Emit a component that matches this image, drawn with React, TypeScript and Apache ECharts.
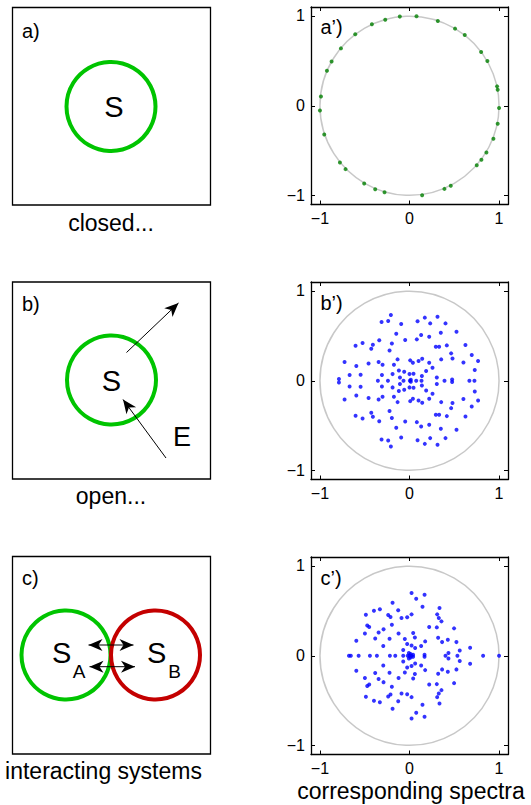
import React, { useEffect, useRef } from "react";
import * as echarts from "echarts";

// Axis ticks shared by the three spectrum panels
const TICKS = [-1, 0, 1];
const TICK_LABELS = ["−1", "0", "1"];
const AXIS_MIN = -1.1;
const AXIS_MAX = 1.1;

// Unit circle drawn behind each spectrum: [centre x, centre y, radius]
const UNIT_CIRCLE = [[0, 0, 1]];

// a') closed system: eigenvalues on the unit circle
const CLOSED_SPECTRUM = [
  [0.078, 0.996], [-0.108, 0.993], [-0.271, 0.959], [-0.42, 0.907], [-0.606, 0.796],
  [-0.766, 0.639], [-0.87, 0.494], [-0.922, 0.39], [-0.989, 0.104], [-1.0, -0.052],
  [-0.952, -0.32], [-0.777, -0.632], [-0.714, -0.706], [-0.506, -0.866], [-0.383, -0.929],
  [-0.279, -0.963], [0.141, -0.996], [0.39, -0.926], [0.461, -0.892], [0.751, -0.662],
  [0.803, -0.602], [0.859, -0.52], [0.937, -0.368], [0.985, -0.2], [1.0, -0.026],
  [0.985, 0.178], [0.978, 0.216], [0.87, 0.498], [0.8, 0.599], [0.617, 0.788],
  [0.509, 0.859], [0.316, 0.944],
];

// b') open system: complex eigenvalues (upper half-plane)
const OPEN_UPPER = [
  [-0.208, 0.732], [-0.312, 0.654], [-0.238, 0.665], [-0.093, 0.632], [0.09, 0.662],
  [0.171, 0.703], [0.313, 0.714], [0.231, 0.639], [0.402, 0.639], [0.525, 0.546],
  [0.35, 0.535], [-0.148, 0.524], [0.13, 0.509], [0.22, 0.491], [-0.048, 0.454],
  [0.082, 0.461], [-0.338, 0.45], [-0.197, 0.416], [-0.524, 0.42], [-0.602, 0.39],
  [-0.409, 0.401], [-0.427, 0.357], [-0.223, 0.338], [0.294, 0.379], [0.331, 0.379],
  [0.417, 0.394], [0.625, 0.398], [0.465, 0.305], [0.695, 0.286], [0.48, 0.249],
  [0.354, 0.238], [0.142, 0.245], [0.101, 0.219], [0.008, 0.227], [0.038, 0.201],
  [0.22, 0.201], [-0.133, 0.238], [-0.174, 0.178], [-0.345, 0.208], [-0.301, 0.178],
  [-0.457, 0.193], [-0.725, 0.208], [-0.594, 0.164], [0.602, 0.204], [0.766, 0.219],
  [0.257, 0.145], [0.729, 0.119], [0.186, 0.108], [-0.119, 0.115], [-0.059, 0.1],
  [0.0, 0.074], [0.045, 0.078], [-0.189, 0.074], [-0.308, 0.063], [-0.546, 0.067],
  [-0.669, 0.063], [0.138, 0.052], [0.305, 0.037], [-0.107, 0.037], [-0.788, 0.019],
  [0.476, 0.015], [0.015, 0.012],
];
// b') real eigenvalues
const OPEN_REAL = [
  [-0.353, 0], [-0.241, 0], [-0.067, 0], [0.004, 0], [0.075, 0],
  [0.134, 0], [0.391, 0], [0.669, 0], [0.725, 0],
];
// b') complex conjugates (lower half-plane)
const OPEN_LOWER = [
  [-0.208, -0.732], [-0.312, -0.654], [-0.238, -0.665], [-0.093, -0.632], [0.09, -0.662],
  [0.171, -0.703], [0.313, -0.714], [0.231, -0.639], [0.402, -0.639], [0.525, -0.546],
  [0.35, -0.535], [-0.148, -0.524], [0.13, -0.509], [0.22, -0.491], [-0.048, -0.454],
  [0.082, -0.461], [-0.338, -0.45], [-0.197, -0.416], [-0.524, -0.42], [-0.602, -0.39],
  [-0.409, -0.401], [-0.427, -0.357], [-0.223, -0.338], [0.294, -0.379], [0.331, -0.379],
  [0.417, -0.394], [0.625, -0.398], [0.465, -0.305], [0.695, -0.286], [0.48, -0.249],
  [0.354, -0.238], [0.142, -0.245], [0.101, -0.219], [0.008, -0.227], [0.038, -0.201],
  [0.22, -0.201], [-0.133, -0.238], [-0.174, -0.178], [-0.345, -0.208], [-0.301, -0.178],
  [-0.457, -0.193], [-0.725, -0.208], [-0.594, -0.164], [0.602, -0.204], [0.766, -0.219],
  [0.257, -0.145], [0.729, -0.119], [0.186, -0.108], [-0.119, -0.115], [-0.059, -0.1],
  [0.0, -0.074], [0.045, -0.078], [-0.189, -0.074], [-0.308, -0.063], [-0.546, -0.067],
  [-0.669, -0.063], [0.138, -0.052], [0.305, -0.037], [-0.107, -0.037], [-0.788, -0.019],
  [0.476, -0.015], [0.015, -0.012],
];

// c') interacting systems: complex eigenvalues (upper half-plane)
const COUPLED_UPPER = [
  [0.023, 0.699], [0.168, 0.68], [0.075, 0.636], [-0.189, 0.591], [0.145, 0.546],
  [0.335, 0.532], [-0.331, 0.517], [-0.397, 0.502], [-0.126, 0.506], [-0.487, 0.457],
  [-0.238, 0.454], [-0.212, 0.431], [-0.089, 0.42], [-0.026, 0.428], [0.023, 0.461],
  [0.309, 0.461], [0.327, 0.42], [0.357, 0.383], [-0.472, 0.338], [-0.45, 0.32],
  [-0.197, 0.346], [-0.29, 0.294], [-0.345, 0.26], [-0.498, 0.249], [-0.122, 0.249],
  [0.041, 0.253], [0.22, 0.32], [0.305, 0.316], [0.498, 0.305], [-0.383, 0.193],
  [-0.223, 0.19], [-0.052, 0.186], [0.06, 0.204], [0.32, 0.201], [0.364, 0.152],
  [0.428, 0.178], [0.524, 0.152], [-0.026, 0.13], [0.023, 0.115], [0.175, 0.16],
  [0.13, 0.108], [-0.594, 0.167], [-0.293, 0.108], [0.063, 0.086], [-0.07, 0.063],
  [0.561, 0.059], [0.677, 0.089], [0.435, 0.03], [0.168, 0.011], [-0.007, 0.03],
  [0.04, 0.01], [0.012, 0.02],
];
// c') real eigenvalues
const COUPLED_REAL = [
  [-0.676, 0], [-0.655, 0], [-0.568, 0], [-0.442, 0], [-0.364, 0],
  [-0.219, 0], [-0.159, 0], [-0.07, 0], [-0.02, 0], [0.0, 0],
  [0.02, 0], [0.402, 0], [0.535, 0], [0.822, 0], [1.0, 0],
];
// c') complex conjugates (lower half-plane)
const COUPLED_LOWER = [
  [0.023, -0.699], [0.168, -0.68], [0.075, -0.636], [-0.189, -0.591], [0.145, -0.546],
  [0.335, -0.532], [-0.331, -0.517], [-0.397, -0.502], [-0.126, -0.506], [-0.487, -0.457],
  [-0.238, -0.454], [-0.212, -0.431], [-0.089, -0.42], [-0.026, -0.428], [0.023, -0.461],
  [0.309, -0.461], [0.327, -0.42], [0.357, -0.383], [-0.472, -0.338], [-0.45, -0.32],
  [-0.197, -0.346], [-0.29, -0.294], [-0.345, -0.26], [-0.498, -0.249], [-0.122, -0.249],
  [0.041, -0.253], [0.22, -0.32], [0.305, -0.316], [0.498, -0.305], [-0.383, -0.193],
  [-0.223, -0.19], [-0.052, -0.186], [0.06, -0.204], [0.32, -0.201], [0.364, -0.152],
  [0.428, -0.178], [0.524, -0.152], [-0.026, -0.13], [0.023, -0.115], [0.175, -0.16],
  [0.13, -0.108], [-0.594, -0.167], [-0.293, -0.108], [0.063, -0.086], [-0.07, -0.063],
  [0.561, -0.059], [0.677, -0.089], [0.435, -0.03], [0.168, -0.011], [-0.007, -0.03],
  [0.04, -0.01], [0.012, -0.02],
];

const PANEL_TAGS = ["a)", "b)", "c)"];
const SPECTRUM_TAGS = ["a’)", "b’)", "c’)"];
const CAPTIONS = ["closed...", "open...", "interacting systems"];
const SPECTRA_CAPTION = "corresponding spectra";

const FONT = "'Liberation Sans', Arial, Helvetica, sans-serif";
const GREEN = "#00c400";
const RED = "#c40000";
const GRID_TOPS = [7, 282, 557];
const GRID_LEFT = 311;
const GRID_SIZE = 197.5;

function tickLabel(v: number) {
  const i = TICKS.indexOf(v);
  return i >= 0 ? TICK_LABELS[i] : String(v);
}

function makeAxis(gridIndex: number, position: string, labelled: boolean) {
  const horizontal = position === "bottom" || position === "top";
  return {
    type: "value",
    gridIndex,
    position,
    min: AXIS_MIN,
    max: AXIS_MAX,
    axisLine: { show: true, onZero: false, lineStyle: { color: "#000", width: 1.3 } },
    axisTick: {
      show: true,
      inside: true,
      length: 4,
      customValues: TICKS,
      lineStyle: { color: "#000", width: 1 },
    },
    axisLabel: {
      show: labelled,
      customValues: TICKS,
      formatter: tickLabel,
      color: "#000",
      fontSize: 16,
      fontFamily: FONT,
      margin: horizontal ? 6 : 6,
    },
    splitLine: { show: false },
  };
}

function text(x: number, y: number, s: string, size: number, align = "center") {
  return {
    type: "text",
    x,
    y,
    z: 10,
    style: { text: s, fontSize: size, fontFamily: FONT, fill: "#000", align, verticalAlign: "middle" },
  };
}

function head(tx: number, ty: number, fx: number, fy: number) {
  const len = 14;
  const half = 6;
  const notch = 4;
  const dx = tx - fx;
  const dy = ty - fy;
  const d = Math.hypot(dx, dy);
  const ux = dx / d;
  const uy = dy / d;
  const nx = -uy;
  const ny = ux;
  const bx = tx - ux * len;
  const by = ty - uy * len;
  return {
    type: "polygon",
    z: 11,
    shape: {
      points: [
        [tx, ty],
        [bx + nx * half, by + ny * half],
        [tx - ux * (len - notch), ty - uy * (len - notch)],
        [bx - nx * half, by - ny * half],
      ],
    },
    style: { fill: "#000" },
  };
}

function arrow(x1: number, y1: number, x2: number, y2: number, both = false) {
  return [
    { type: "line", z: 11, shape: { x1, y1, x2, y2 }, style: { stroke: "#000", lineWidth: 1 } },
    head(x2, y2, x1, y1),
    ...(both ? [head(x1, y1, x2, y2)] : []),
  ];
}

function ring(cx: number, cy: number, color: string) {
  return { type: "circle", z: 5, shape: { cx, cy, r: 44.5 }, style: { fill: "none", stroke: color, lineWidth: 4 } };
}

function box(y: number, h: number) {
  return {
    type: "rect",
    z: 1,
    shape: { x: 12.5, y, width: 198, height: h },
    style: { fill: "none", stroke: "#000", lineWidth: 1.3 },
  };
}

function schematic() {
  return [
    // a) closed system
    box(7.5, 197.5),
    ring(111, 106.5, GREEN),
    text(114, 107, "S", 29),
    text(22, 31, PANEL_TAGS[0], 20, "left"),
    text(111, 222.5, CAPTIONS[0], 23),
    // b) open system coupled to an environment
    box(282, 197),
    ring(111.5, 380, GREEN),
    text(111.5, 381, "S", 29),
    text(182, 436.5, "E", 27),
    ...arrow(126.5, 352.5, 178.5, 303),
    ...arrow(166, 458, 123, 399.5),
    text(22, 303.5, PANEL_TAGS[1], 20, "left"),
    text(111, 495.5, CAPTIONS[1], 23),
    // c) two interacting systems
    box(556.5, 197.5),
    ring(66, 655, GREEN),
    ring(155.5, 655, RED),
    text(61.7, 653.3, "S", 29),
    text(79.2, 671.5, "A", 19),
    text(156.7, 653.3, "S", 29),
    text(174.7, 671.5, "B", 19),
    ...arrow(88.5, 645, 133.5, 645, true),
    ...arrow(89.5, 666.7, 135, 666.7, true),
    text(22, 578.3, PANEL_TAGS[2], 20, "left"),
    text(103.5, 770.5, CAPTIONS[2], 23),
    // spectrum panel tags and caption
    text(320.5, 27, SPECTRUM_TAGS[0], 20, "left"),
    text(320.5, 302.5, SPECTRUM_TAGS[1], 20, "left"),
    text(320.5, 578, SPECTRUM_TAGS[2], 20, "left"),
    text(411, 790.5, SPECTRA_CAPTION, 23),
  ];
}

function unitCircleSeries(i: number) {
  return {
    type: "custom",
    xAxisIndex: 2 * i,
    yAxisIndex: 2 * i,
    data: UNIT_CIRCLE,
    z: 1,
    silent: true,
    renderItem: (_params: any, api: any) => {
      const c = api.coord([api.value(0), api.value(1)]);
      const s = api.size([api.value(2), api.value(2)]);
      return {
        type: "circle",
        shape: { cx: c[0], cy: c[1], r: s[0] },
        style: { fill: "none", stroke: "#c8c8c8", lineWidth: 1.5 },
      };
    },
  };
}

function pointSeries(i: number, data: number[][], color: string, size: number) {
  return {
    type: "scatter",
    xAxisIndex: 2 * i,
    yAxisIndex: 2 * i,
    data,
    symbol: "circle",
    symbolSize: size,
    itemStyle: { color },
    z: 3,
    silent: true,
  };
}

export default function App() {
  const ref = useRef<HTMLDivElement>(null);

  useEffect(() => {
    document.body.style.margin = "0";
    const chart = echarts.init(ref.current as HTMLDivElement, undefined, { renderer: "svg" });
    const grids = GRID_TOPS.map((top) => ({ left: GRID_LEFT, top, width: GRID_SIZE - 0.5, height: GRID_SIZE }));
    const xAxis: any[] = [];
    const yAxis: any[] = [];
    grids.forEach((_g, i) => {
      xAxis.push(makeAxis(i, "bottom", true), makeAxis(i, "top", false));
      yAxis.push(makeAxis(i, "left", true), makeAxis(i, "right", false));
    });
    chart.setOption({
      animation: false,
      backgroundColor: "#fff",
      textStyle: { fontFamily: FONT },
      grid: grids,
      xAxis,
      yAxis,
      series: [
        unitCircleSeries(0),
        unitCircleSeries(1),
        unitCircleSeries(2),
        pointSeries(0, CLOSED_SPECTRUM, "#008000", 4),
        pointSeries(1, [...OPEN_UPPER, ...OPEN_REAL, ...OPEN_LOWER], "#0000ff", 4),
        pointSeries(2, [...COUPLED_UPPER, ...COUPLED_REAL, ...COUPLED_LOWER], "#0000ff", 4),
      ],
      graphic: schematic(),
    });
    return () => chart.dispose();
  }, []);

  return <div ref={ref} style={{ width: 531, height: 805 }} />;
}
